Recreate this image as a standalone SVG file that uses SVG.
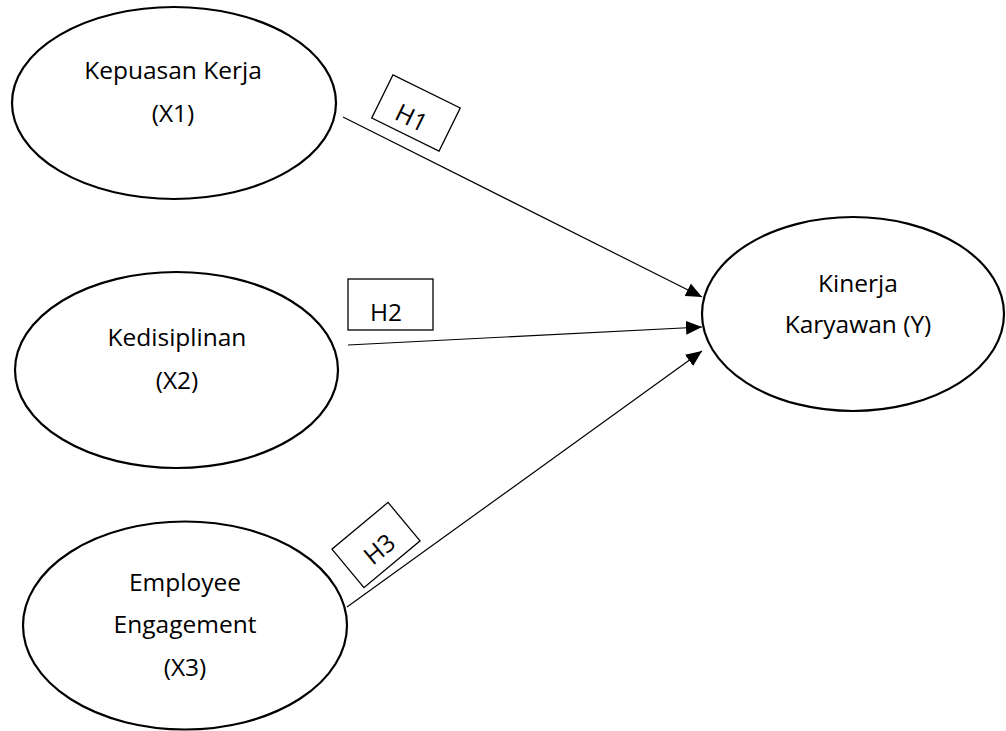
<svg xmlns="http://www.w3.org/2000/svg" width="1006" height="731" viewBox="0 0 1006 731">
<defs>
<style>
.node ellipse{fill:#fff;stroke:#000;stroke-width:2.2}
.t{font-family:"Open Sans","Liberation Sans",sans-serif;font-size:24.5px;fill:#000;text-anchor:middle}
.lbl rect{fill:#fff;stroke:#000;stroke-width:1.3}
.conn line{stroke:#000;stroke-width:1.2}
</style>
<marker id="ah" markerUnits="userSpaceOnUse" markerWidth="16" markerHeight="14" viewBox="0 0 16 14" refX="16" refY="7" orient="auto">
<path d="M0,0 L16,7 L0,14 Z" fill="#000"/>
</marker>
</defs>
<rect width="1006" height="731" fill="#fff"/>
<g id="x1" class="node">
<ellipse cx="174" cy="103" rx="162" ry="96"/>
<text class="t" x="173" y="79">Kepuasan Kerja</text>
<text class="t" x="173" y="122">(X1)</text>
</g>
<g id="x2" class="node">
<ellipse cx="176.5" cy="370" rx="161.5" ry="98"/>
<text class="t" x="177" y="346">Kedisiplinan</text>
<text class="t" x="177" y="389">(X2)</text>
</g>
<g id="x3" class="node">
<ellipse cx="185" cy="625.5" rx="162" ry="104"/>
<text class="t" x="185" y="591">Employee</text>
<text class="t" x="185" y="633">Engagement</text>
<text class="t" x="185" y="676">(X3)</text>
</g>
<g id="y" class="node">
<ellipse cx="853" cy="314" rx="151" ry="97"/>
<text class="t" x="858" y="292">Kinerja</text>
<text class="t" x="858" y="333">Karyawan (Y)</text>
</g>
<g id="connectors" class="conn">
<line x1="343" y1="117" x2="702" y2="297" marker-end="url(#ah)"/>
<line x1="348" y1="345" x2="702" y2="327" marker-end="url(#ah)"/>
<line x1="347" y1="607" x2="702" y2="351" marker-end="url(#ah)"/>
</g>
<g id="h1" class="lbl" transform="translate(416,113) rotate(26.2)">
<rect x="-37.5" y="-24" width="75" height="48"/>
<text class="t" x="-2" y="15">H1</text>
</g>
<g id="h2" class="lbl">
<rect x="348" y="279" width="85" height="51"/>
<text class="t" x="386" y="321">H2</text>
</g>
<g id="h3" class="lbl" transform="translate(376,545) rotate(-39.8)">
<rect x="-36.5" y="-25" width="73" height="50"/>
<text class="t" x="0" y="14">H3</text>
</g>
</svg>
